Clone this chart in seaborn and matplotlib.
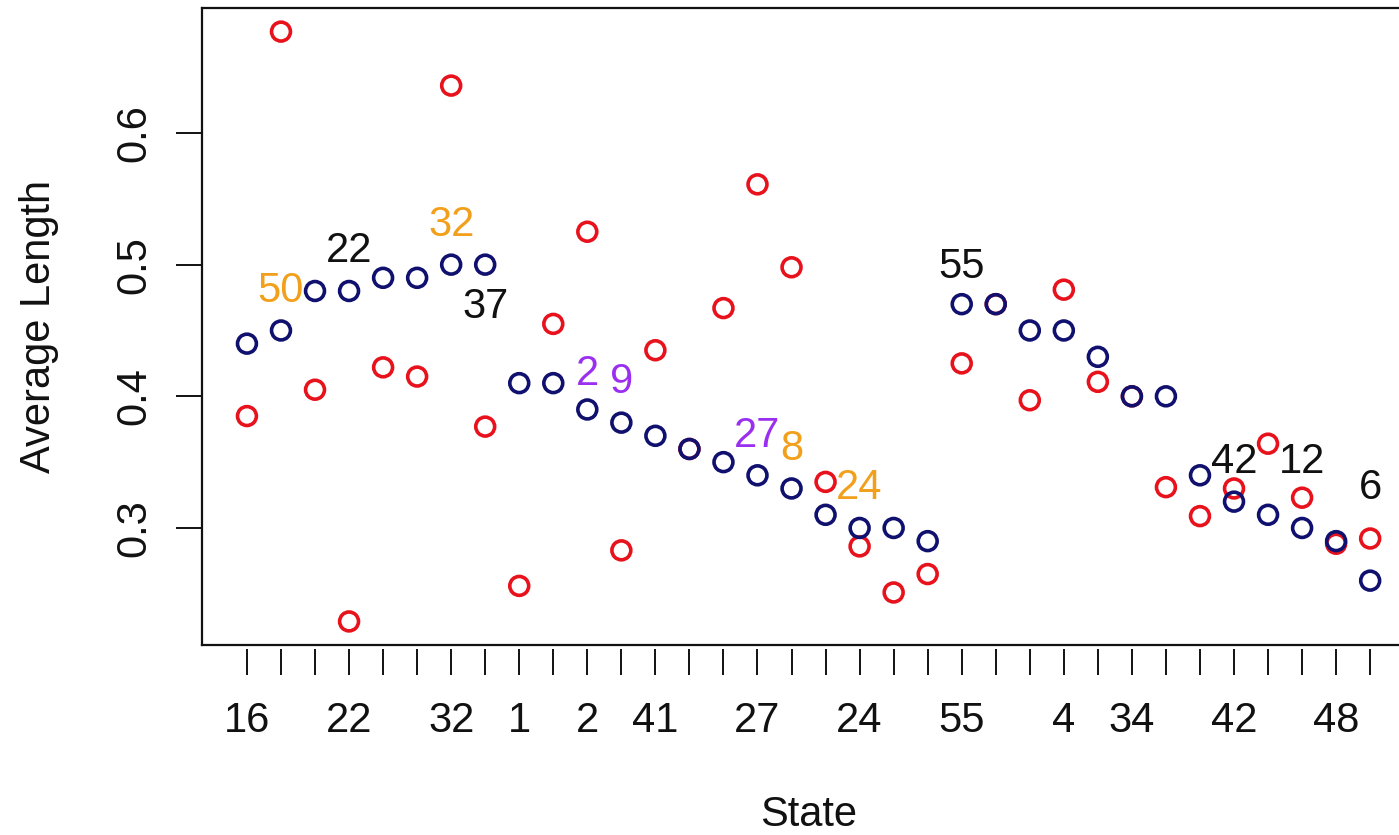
import numpy as np
import matplotlib
matplotlib.use('Agg')
import matplotlib.pyplot as plt
import seaborn as sns

# average length per state, ordered as on the x axis
blue_vals = [0.44, 0.45, 0.48, 0.48, 0.49, 0.49, 0.50, 0.50, 0.41, 0.41,
             0.39, 0.38, 0.37, 0.36, 0.35, 0.34, 0.33, 0.31, 0.30, 0.30,
             0.29, 0.47, 0.47, 0.45, 0.45, 0.43, 0.40, 0.40, 0.34, 0.32,
             0.31, 0.30, 0.29, 0.26]
red_vals = [0.385, 0.677, 0.405, 0.229, 0.422, 0.415, 0.636, 0.377, 0.256, 0.455,
            0.525, 0.283, 0.435, 0.360, 0.467, 0.561, 0.498, 0.335, 0.286, 0.251,
            0.265, 0.425, 0.470, 0.397, 0.481, 0.411, 0.400, 0.331, 0.309, 0.330,
            0.364, 0.323, 0.288, 0.292]

# tick labels that survive R's overlap check
tick_labels = ['16', '', '', '22', '', '', '32', '', '1', '',
               '2', '', '41', '', '', '27', '', '', '24', '',
               '', '55', '', '', '4', '', '34', '', '', '42',
               '', '', '48', '']

# labelled states: (index on axis, text, label height, colour)
note_idx = [1, 3, 6, 7, 10, 11, 15, 16, 18, 21, 29, 31, 33]
note_text = ['50', '22', '32', '37', '2', '9', '27', '8', '24', '55', '42', '12', '6']
note_y = [0.480, 0.510, 0.530, 0.468, 0.417, 0.411, 0.370, 0.360, 0.330, 0.498,
          0.350, 0.350, 0.330]
note_col = ['orange', 'black', 'orange', 'black', 'purple', 'purple', 'purple',
            'orange', 'orange', 'black', 'black', 'black', 'black']

colours = {'orange': '#f2a01c', 'purple': '#9b2ff0', 'black': '#111111'}
navy = '#10106f'
red = '#e8121c'

sns.set_style('ticks')
plt.rcParams['font.family'] = ['Liberation Sans', 'DejaVu Sans']

pos = np.arange(len(blue_vals))

fig = plt.figure(figsize=(13.99, 8.35), dpi=100)
ax = fig.add_axes([0.1444, 0.2275, 0.8671, 0.7629])

sns.scatterplot(x=pos, y=red_vals, ax=ax, marker='o', s=185,
                facecolors='none', edgecolor=red, linewidth=2.6)
sns.scatterplot(x=pos, y=blue_vals, ax=ax, marker='o', s=185,
                facecolors='none', edgecolor=navy, linewidth=2.6)

for i, t, y, c in zip(note_idx, note_text, note_y, note_col):
    ax.text(pos[i], y, t, color=colours[c], fontsize=30, ha='center', va='center')

allv = np.array(blue_vals + red_vals)
pad = 0.04 * (allv.max() - allv.min())
ax.set_ylim(allv.min() - pad, allv.max() + pad)
xpad = 0.04 * (pos[-1] - pos[0])
ax.set_xlim(pos[0] - xpad, pos[-1] + xpad)

for s in ax.spines.values():
    s.set_visible(True)
    s.set_linewidth(1.6)
    s.set_color('#111111')

ax.set_yticks([0.3, 0.4, 0.5, 0.6])
ax.set_yticklabels(['0.3', '0.4', '0.5', '0.6'], rotation=90, va='center')
ax.tick_params(axis='y', length=19, width=1.4, pad=15, labelsize=30, colors='#111111')
ax.set_ylabel('Average Length', fontsize=30, labelpad=40, color='#111111')

ax.set_xticks([])
ax.set_xlabel('')

sec = ax.secondary_xaxis(-0.0065)
for s in sec.spines.values():
    s.set_visible(False)
sec.set_xticks(pos)
sec.set_xticklabels(tick_labels)
sec.tick_params(axis='x', length=19, width=1.4, pad=18, labelsize=30, colors='#111111')
sec.set_xlabel('State', fontsize=30, labelpad=39, color='#111111')

fig.savefig('out.png', dpi=100)
